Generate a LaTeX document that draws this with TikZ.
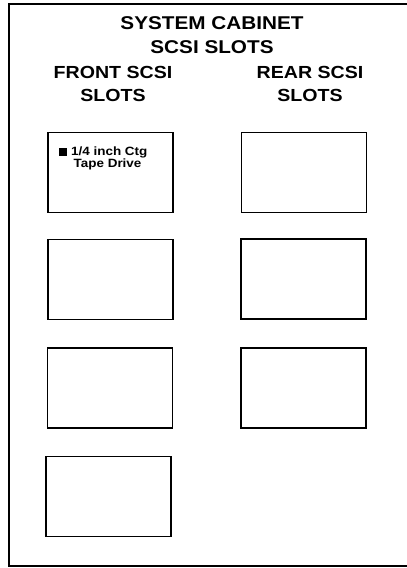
\documentclass[tikz,border=0pt]{standalone}
\usepackage{fontspec}
\setmainfont{Liberation Sans}
\newfontfamily\hb[FakeStretch=1.12]{Liberation Sans}
\begin{document}
\begin{tikzpicture}[x=1pt,y=-1pt,
  slot/.style={draw,line width=1.8pt,minimum width=125pt,minimum height=80pt,inner sep=0pt},
  head/.style={align=center,font=\hb\bfseries\fontsize{18.5}{23.5}\selectfont,inner sep=0pt},
  sub/.style={align=center,font=\hb\bfseries\fontsize{17.5}{23}\selectfont,inner sep=0pt}]
\useasboundingbox (0,0) rectangle (407,568);
\draw[line width=1.3pt] (408,4) -- (9,4) -- (9,566) -- (408,566);
\node[head] (title) at (212,35) {SYSTEM CABINET\\SCSI SLOTS};
\node[sub] (front) at (113,84) {FRONT SCSI\\SLOTS};
\node[sub] (rear) at (310,84) {REAR SCSI\\SLOTS};
\node[slot] (f1) at (110.5,172.5) {};
\node[slot] (f2) at (110.5,279.5) {};
\node[slot] (f3) at (110,388) {};
\node[slot] (f4) at (108.5,496.5) {};
\node[slot] (r1) at (304,172.5) {};
\node[slot] (r2) at (303.5,279) {};
\node[slot] (r3) at (303.5,388) {};
\fill (59,148) rectangle (66.5,155.5);
\node[anchor=north west,align=left,inner sep=0pt,font=\hb\bfseries\fontsize{12}{12.5}\selectfont] (lbl) at (71,146.5) {1/4 inch Ctg\\\hspace*{2.5pt}Tape Drive};
\end{tikzpicture}
\end{document}
